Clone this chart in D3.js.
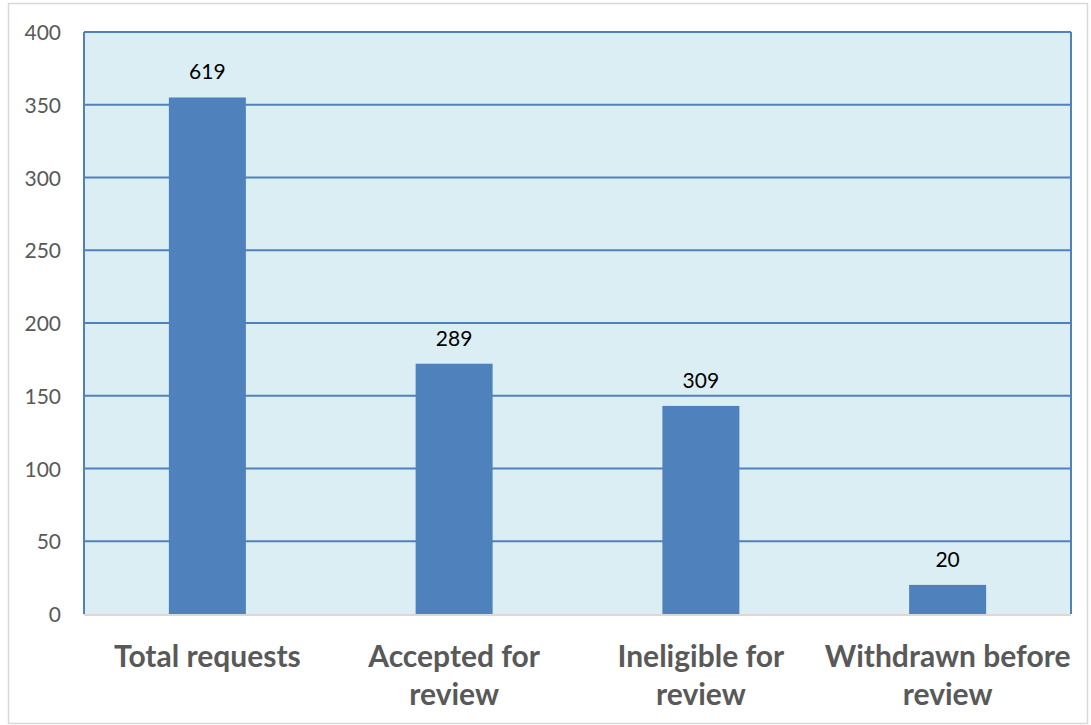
<!DOCTYPE html>
<html><head><meta charset="utf-8">
<script src="https://cdn.jsdelivr.net/npm/d3@7"></script>
<style>body{margin:0;background:#fff}svg{display:block}</style>
</head><body>
<svg id="chart" width="1091" height="725"></svg>
<script>
const categories = [["Total requests"], ["Accepted for", "review"], ["Ineligible for", "review"], ["Withdrawn before", "review"]];
const values = [355, 172, 143, 20];
const dataLabels = ["619", "289", "309", "20"];
const yTicks = [0, 50, 100, 150, 200, 250, 300, 350, 400];

const svg = d3.select("#chart");
const W = 1091, H = 725;
const m = {left: 84, right: 20, top: 32, bottom: 111};
const pw = W - m.left - m.right, ph = H - m.top - m.bottom;
const FONT = "Lato, 'Open Sans', sans-serif";

svg.append("rect").attr("x", 8.5).attr("y", 3.5).attr("width", W - 12).attr("height", H - 5)
  .attr("fill", "#fff").attr("stroke", "#d9d9d9").attr("stroke-width", 1.5);

const g = svg.append("g").attr("transform", `translate(${m.left},${m.top})`);
const x = d3.scaleBand().domain(d3.range(categories.length)).range([0, pw]).paddingInner(0.688).paddingOuter(0.344);
const y = d3.scaleLinear().domain([0, 400]).range([ph, 0]);

g.append("rect").attr("width", pw).attr("height", ph).attr("fill", "#dbeef4");

g.selectAll(".grid").data(yTicks.filter(d => d > 0)).join("line")
  .attr("x1", 0).attr("x2", pw).attr("y1", d => y(d)).attr("y2", d => y(d))
  .attr("stroke", "#4f81bd").attr("stroke-width", 2);

g.append("line").attr("x1", 0).attr("x2", 0).attr("y1", 0).attr("y2", ph).attr("stroke", "#4f81bd").attr("stroke-width", 2);
g.append("line").attr("x1", pw).attr("x2", pw).attr("y1", 0).attr("y2", ph).attr("stroke", "#4f81bd").attr("stroke-width", 2);

g.selectAll(".bar").data(values).join("rect")
  .attr("x", (d, i) => x(i)).attr("width", x.bandwidth())
  .attr("y", d => y(d)).attr("height", d => ph - y(d)).attr("fill", "#4f81bd");

g.append("line").attr("x1", 0).attr("x2", pw).attr("y1", ph + 1).attr("y2", ph + 1).attr("stroke", "#d9d9d9").attr("stroke-width", 2);

g.selectAll(".vl").data(values).join("text")
  .attr("x", (d, i) => x(i) + x.bandwidth() / 2).attr("y", d => y(d) - 18)
  .attr("text-anchor", "middle")
  .attr("font-family", FONT).attr("font-size", 21).attr("fill", "#000")
  .text((d, i) => dataLabels[i]);

const yAxis = d3.axisLeft(y).tickValues(yTicks).tickSize(0).tickPadding(23);
const ya = g.append("g").call(yAxis);
ya.select(".domain").remove();
ya.selectAll("text").attr("dy", 7.5).attr("font-family", FONT).attr("font-size", 21).attr("fill", "#595959");

const xl = g.selectAll(".xl").data(categories).join("text")
  .attr("x", (d, i) => x(i) + x.bandwidth() / 2).attr("y", ph + 53)
  .attr("text-anchor", "middle")
  .attr("font-family", FONT).attr("font-weight", "bold").attr("font-size", 30).attr("fill", "#595959");
xl.selectAll("tspan").data(d => d).join("tspan")
  .attr("x", function() { return this.parentNode.getAttribute("x"); })
  .attr("dy", (d, i) => i === 0 ? 0 : 38).text(d => d);
</script>
</body></html>
